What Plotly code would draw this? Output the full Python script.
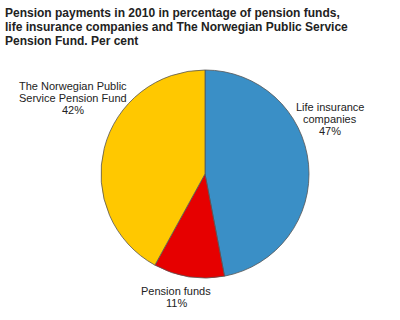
import plotly.graph_objects as go

categories = ["Life insurance companies", "Pension funds", "The Norwegian Public Service Pension Fund"]
label_lines = [["Life insurance", "companies"], ["Pension funds"], ["The Norwegian Public", "Service Pension Fund"]]
values = [47, 11, 42]
colors = ["#3a8fc6", "#e60000", "#ffc800"]
title_lines = [
    "Pension payments in 2010 in percentage of pension funds,",
    "life insurance companies and The Norwegian Public Service",
    "Pension Fund. Per cent",
]

W, H = 400, 320
cx, cy, r = 205, 174, 104
FONT = "Liberation Sans, Arial"

fig = go.Figure(go.Pie(
    labels=categories,
    values=values,
    sort=False,
    direction="clockwise",
    rotation=0,
    marker=dict(colors=colors, line=dict(color="#555555", width=0.8)),
    textinfo="none",
    hoverinfo="label+percent",
    showlegend=False,
    domain=dict(x=[(cx - r) / W, (cx + r) / W], y=[1 - (cy + r) / H, 1 - (cy - r) / H]),
))

# label block positions (center x, first-line center y)
label_pos = [(330, 107), (176, 291), (73, 86)]
annotations = []
for lines, v, (x, y) in zip(label_lines, values, label_pos):
    for i, t in enumerate(lines + [f"{v}%"]):
        annotations.append(dict(
            x=x / W, y=1 - (y + 12 * i) / H, xref="paper", yref="paper",
            text=t, showarrow=False, align="center",
            xanchor="center", yanchor="middle",
            font=dict(family=FONT, size=11, color="#222222"),
        ))
for i, t in enumerate(title_lines):
    annotations.append(dict(
        x=3 / W, y=1 - (13 + 14 * i) / H, xref="paper", yref="paper",
        xanchor="left", yanchor="middle",
        text="<b>" + t + "</b>", showarrow=False, align="left",
        font=dict(family=FONT, size=12, color="#222222"),
    ))

fig.update_layout(
    width=W, height=H,
    margin=dict(l=0, r=0, t=0, b=0),
    paper_bgcolor="white", plot_bgcolor="white",
    annotations=annotations,
)
fig.write_html("out.html", config={"displayModeBar": False})
